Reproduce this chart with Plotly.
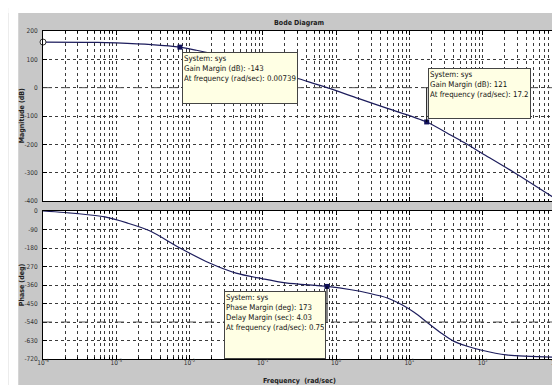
import plotly.graph_objects as go

# ---- data ----
freq_mag = [1e-4, 5.5e-4, 1e-3, 3e-3, 7.39e-3, 1.24e-2, 3e-2, 0.1, 0.28, 0.75, 2, 5, 17.2, 37, 55, 100, 300, 1000]
mag_db = [161, 160, 158, 152, 143, 132, 110, 73, 35, 0, -38, -73, -121, -168, -193, -233, -307, -393]

freq_ph = [1e-4, 3e-4, 7e-4, 1.4e-3, 2.9e-3, 7.39e-3, 1.87e-2, 4.3e-2, 0.1, 0.205, 0.75, 1.6, 2.8, 5, 7.8,
           11.7, 17.2, 27, 40, 60, 94, 210, 1000]
phase_deg = [0, -13, -29, -58, -97, -180, -253, -302, -330, -350, -367, -383, -400, -423, -455,
             -494, -540, -593, -633, -657, -676, -700, -711]

gm_freq = [7.39e-3, 17.2]
gm_mag = [143, -121]
pm_freq = [0.75]
pm_phase = [-367]
start_freq = [1e-4]
start_mag = [161]

mag_ticks = [200, 100, 0, -100, -200, -300, -400]
phase_ticks = [0, -90, -180, -270, -360, -450, -540, -630, -720]
freq_ticks = [1e-4, 1e-3, 1e-2, 1e-1, 1e0, 1e1, 1e2, 1e3]
freq_tick_text = ["10<sup>-4</sup>", "10<sup>-3</sup>", "10<sup>-2</sup>", "10<sup>-1</sup>",
                  "10<sup>0</sup>", "10<sup>1</sup>", "10<sup>2</sup>", "10<sup>3</sup>"]
minor_ticks = [m * d for d in freq_ticks[:-1] for m in range(2, 10)]

box_texts = [
    "System: sys<br>Gain Margin (dB): -143<br>At frequency (rad/sec): 0.00739<br> ",
    "System: sys<br>Gain Margin (dB): 121<br>At frequency (rad/sec): 17.2<br> ",
    "System: sys<br>Phase Margin (deg): 173<br>Delay Margin (sec): 4.03<br>At frequency (rad/sec): 0.75<br> ",
]

W, H = 560, 385
L, R, T, B = 35, 7, 23, 34
pw, ph = W - L - R, H - T - B


def px(x):
    return (x - L) / pw


def py(y):
    return (H - B - y) / ph


line_col = "#1c1c5c"
grid_col = "#3a3a3a"
txt_font = "Liberation Sans Narrow, DejaVu Sans Condensed, Arial Narrow, Liberation Sans, sans-serif"

fig = go.Figure()
fig.add_trace(go.Scatter(x=freq_mag, y=mag_db, mode="lines", line=dict(color=line_col, width=1.2, shape="spline", smoothing=0.8),
                         xaxis="x", yaxis="y", showlegend=False))
fig.add_trace(go.Scatter(x=freq_ph, y=phase_deg, mode="lines", line=dict(color=line_col, width=1.2, shape="spline", smoothing=0.8),
                         xaxis="x2", yaxis="y2", showlegend=False))
fig.add_trace(go.Scatter(x=gm_freq, y=gm_mag, mode="markers", marker=dict(color="#10105a", size=5, symbol="square"),
                         xaxis="x", yaxis="y", showlegend=False))
fig.add_trace(go.Scatter(x=pm_freq, y=pm_phase, mode="markers", marker=dict(color="#10105a", size=5, symbol="square"),
                         xaxis="x2", yaxis="y2", showlegend=False))
fig.add_trace(go.Scatter(x=start_freq, y=start_mag, mode="markers", cliponaxis=False,
                         marker=dict(color="white", size=6, line=dict(color="#333333", width=1)),
                         xaxis="x", yaxis="y", showlegend=False))

top_dom = [py(193), 1.0]
bot_dom = [0.0, py(203)]

tickfont = dict(size=6.5, color="#333333", family=txt_font)
xcommon = dict(type="log", range=[-4, 3], tickmode="array", tickvals=freq_ticks, ticktext=freq_tick_text,
               showgrid=True, gridcolor=grid_col, griddash="dot", gridwidth=1,
               showline=True, linecolor="black", linewidth=1, mirror="allticks", ticks="inside", ticklen=4,
               tickcolor="black", zeroline=False,
               minor=dict(tickmode="array", tickvals=minor_ticks, ticks="inside", ticklen=2, tickcolor="black",
                          showgrid=True, gridcolor=grid_col, griddash="dot", gridwidth=1),
               tickfont=tickfont)
ycommon = dict(showgrid=True, gridcolor=grid_col, griddash="dot", gridwidth=1, showline=True, linecolor="black",
               linewidth=1, mirror="allticks", ticks="inside", ticklen=4, tickcolor="black", zeroline=False,
               tickfont=tickfont, ticklabelstandoff=3)

fig.update_layout(
    width=W, height=H, margin=dict(l=L, r=R, t=T, b=B),
    paper_bgcolor="#c8c8c8", plot_bgcolor="white",
    xaxis=dict(xcommon, anchor="y", showticklabels=False, matches="x2"),
    yaxis=dict(ycommon, domain=top_dom, range=[-400, 200], tickvals=mag_ticks,
               ticktext=[str(v) for v in mag_ticks]),
    xaxis2=dict(xcommon, anchor="y2", ticklabelstandoff=-3),
    yaxis2=dict(ycommon, domain=bot_dom, range=[-720, 0], tickvals=phase_ticks,
                ticktext=[str(v) for v in phase_ticks]),
)

shapes = [
    dict(type="rect", xref="paper", yref="paper", x0=px(0), x1=px(10), y0=py(0), y1=py(H),
         fillcolor="white", line=dict(width=0), layer="below"),
    dict(type="rect", xref="paper", yref="paper", x0=px(0), x1=px(W), y0=py(0), y1=py(5),
         fillcolor="white", line=dict(width=0), layer="below"),
    dict(type="line", xref="x domain", yref="y", x0=0, x1=1, y0=0, y1=0,
         line=dict(color="#555555", width=1, dash="dash"), layer="above"),
    dict(type="line", xref="x2 domain", yref="y2", x0=0, x1=1, y0=-540, y1=-540,
         line=dict(color="#555555", width=1, dash="dash"), layer="above"),
    dict(type="line", xref="x", yref="y", x0=gm_freq[1], x1=gm_freq[1], y0=gm_mag[1], y1=0,
         line=dict(color="black", width=1), layer="above"),
    dict(type="line", xref="x2", yref="y2", x0=pm_freq[0], x1=pm_freq[0], y0=pm_phase[0], y1=-540,
         line=dict(color="black", width=1), layer="above"),
]
fig.update_layout(shapes=shapes)

box_specs = [(175, 44, 112, 48), (424, 60, 99, 47), (218, 283, 98, 64)]
anns = []
for (bx, by, bw, bh), t in zip(box_specs, box_texts):
    anns.append(dict(xref="paper", yref="paper", x=px(bx), y=py(by), xanchor="left", yanchor="top",
                     text=t, showarrow=False, align="left", valign="top", width=bw, height=bh,
                     bgcolor="#ffffe4", bordercolor="#444444", borderwidth=1, borderpad=1,
                     font=dict(size=7.8, color="#111111", family=txt_font)))

lab_font = dict(size=7, color="#222222", family=txt_font)
anns.append(dict(xref="paper", yref="paper", x=0.5, y=py(15), xanchor="center", yanchor="middle",
                 text="<b>Bode Diagram</b>", showarrow=False, font=lab_font))
anns.append(dict(xref="paper", yref="paper", x=0.5, y=py(373), xanchor="center", yanchor="middle",
                 text="<b>Frequency  (rad/sec)</b>", showarrow=False, font=lab_font))
anns.append(dict(xref="paper", yref="paper", x=px(14), y=(top_dom[0] + top_dom[1]) / 2, xanchor="center",
                 yanchor="middle", text="<b>Magnitude (dB)</b>", showarrow=False, textangle=-90, font=lab_font))
anns.append(dict(xref="paper", yref="paper", x=px(14), y=(bot_dom[0] + bot_dom[1]) / 2, xanchor="center",
                 yanchor="middle", text="<b>Phase (deg)</b>", showarrow=False, textangle=-90, font=lab_font))
fig.update_layout(annotations=anns)

fig.write_html("out.html")
